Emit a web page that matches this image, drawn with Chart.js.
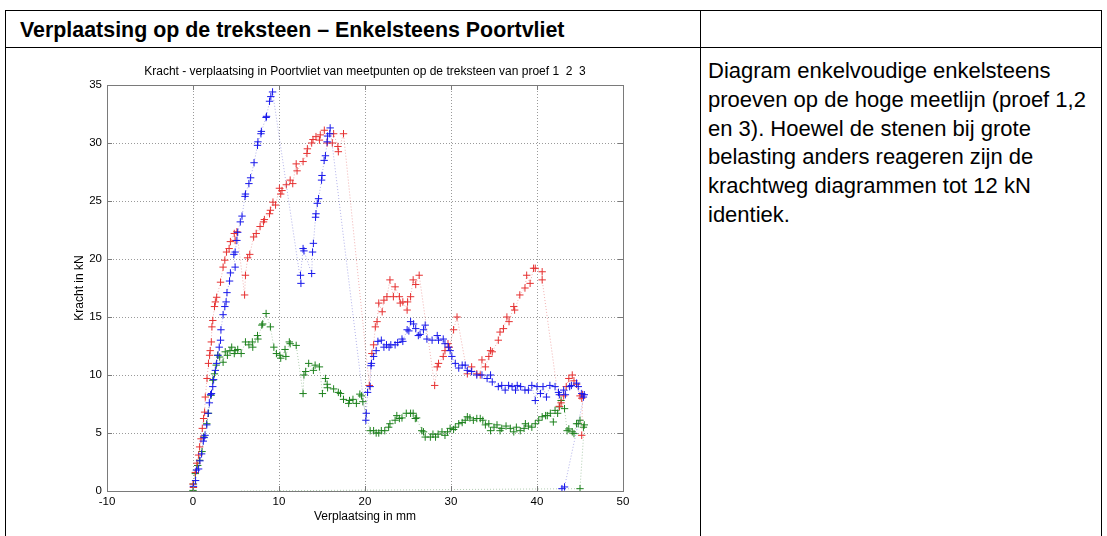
<!DOCTYPE html>
<html>
<head>
<meta charset="UTF-8">
<title>Verplaatsing op de treksteen</title>
<script src="https://cdn.jsdelivr.net/npm/chart.js@4.4.0/dist/chart.umd.min.js"></script>
<style>
  body { margin: 0; background: #fff; font-family: "Liberation Sans", Arial, sans-serif; }
  .line { position: absolute; background: #000; }
  #kop { position: absolute; left: 20px; top: 17px; font-weight: bold; font-size: 21.4px; line-height: 26px; white-space: nowrap; }
  #tekst { position: absolute; left: 708px; top: 57px; font-size: 22px; line-height: 28.8px; white-space: nowrap; }
  #wrap { position: absolute; left: 40px; top: 58px; width: 600px; height: 478px; }
</style>
</head>
<body>
<div class="line" style="left:5px;top:10px;width:1097px;height:1px"></div>
<div class="line" style="left:5px;top:47px;width:1097px;height:1px"></div>
<div class="line" style="left:5px;top:10px;width:1px;height:526px"></div>
<div class="line" style="left:700px;top:10px;width:1px;height:526px"></div>
<div class="line" style="left:1101px;top:10px;width:1px;height:526px"></div>

<div id="kop">Verplaatsing op de treksteen – Enkelsteens Poortvliet</div>
<div id="tekst">Diagram enkelvoudige enkelsteens<br>proeven op de hoge meetlijn (proef 1,2<br>en 3). Hoewel de stenen bij grote<br>belasting anders reageren zijn de<br>krachtweg diagrammen tot 12 kN<br>identiek.</div>

<div id="wrap"><canvas id="chart" width="600" height="478"></canvas></div>

<script>
// meetpunten [verplaatsing mm, kracht kN], in volgorde van meting
var proef1 = [[0.05,0.4],[0.3,0.9],[0.4,1.8],[0.65,1.9],[0.8,2.6],[1.0,3.2],[1.2,4.3],[1.3,4.6],[1.4,4.8],[1.6,5.7],[1.75,6.7],[1.9,7.6],[2.05,8.3],[2.15,8.4],[2.3,9.0],[2.4,9.6],[2.6,10.4],[2.75,11.0],[2.9,11.7],[3.05,12.4],[3.2,13.0],[3.25,13.9],[3.5,15.2],[3.7,15.9],[3.85,16.3],[3.95,17.1],[4.25,18.1],[4.35,18.8],[4.9,19.3],[4.75,20.4],[4.9,20.6],[5.1,21.6],[5.2,22.3],[5.5,23.2],[5.7,23.7],[6.05,25.4],[6.1,25.6],[6.5,26.5],[6.7,27.0],[7.1,28.3],[7.5,29.8],[7.55,30.1],[7.9,30.8],[7.95,31.0],[8.5,32.2],[8.55,32.3],[8.9,33.6],[9.05,34.0],[9.25,34.4],
  [12.55,17.9],[12.5,18.6],[12.8,20.9],[12.9,20.7],[13.8,18.75],[13.9,20.6],[14.0,21.35],[14.25,23.6],[14.3,23.9],[14.45,24.8],[14.6,25.2],[14.95,26.8],[15.0,27.2],[15.25,28.5],[15.4,28.9],[15.6,30.1],[15.65,30.6],[15.9,30.8],[15.95,31.3],
  [20.1,6.1],[20.15,6.7],[20.3,8.5],[20.6,9.0],[20.7,10.8],[20.75,11.0],[21.0,11.6],[21.3,12.1],[21.5,12.9],[21.9,13.0],[22.2,12.4],[22.5,12.6],[22.8,12.4],[23.0,12.6],[23.5,12.6],[23.8,12.8],[24.3,13.1],[24.4,12.9],[24.9,13.9],[25.1,13.8],[25.3,14.6],[25.65,14.4],[25.9,14.0],[26.2,13.4],[26.4,13.5],[26.8,13.9],[27.0,14.3],[27.2,13.1],[27.8,13.0],[28.4,13.4],[28.55,13.0],[29.1,13.1],[29.3,12.7],[29.7,12.4],[29.9,12.1],[30.1,11.6],[30.5,11.0],[30.9,10.6],[31.3,10.85],[31.65,10.85],[31.9,10.4],[32.4,10.3],[33.0,10.0],[33.6,10.0],[34.2,9.7],[34.6,10.0],[34.8,9.4],[35.5,9.0],[35.9,9.1],[36.3,8.7],[36.7,9.1],[37.1,9.0],[37.5,8.7],[37.7,9.1],[38.1,9.0],[38.6,8.7],[39.0,8.7],[39.4,9.1],[39.8,7.8],[40.0,9.0],[40.4,8.4],[40.7,9.0],[41.1,8.1],[41.5,9.1],[42.1,9.0],[42.5,8.5],[42.6,8.3],[43.1,8.7],[43.3,8.3],[43.8,9.0],[44.0,9.1],[44.6,9.3],[44.8,9.0],[45.2,8.4],[45.4,8.1],[45.5,8.3],[43.2,0.35],[42.9,0.2]];

var proef2 = [[0.0,0.6],[0.05,0.3],[0.27,1.6],[0.45,2.4],[0.65,3.1],[0.77,3.8],[0.93,4.5],[1.08,5.4],[1.23,6.25],[1.35,6.8],[1.43,8.1],[1.63,9.7],[1.8,11.0],[1.93,11.7],[2.0,12.1],[2.13,12.85],[2.2,14.15],[2.3,14.7],[2.5,15.9],[2.6,16.3],[2.75,16.7],[3.2,18.0],[3.5,19.3],[3.7,19.9],[3.9,20.6],[4.2,20.9],[4.35,21.5],[4.8,22.2],[4.9,21.6],[5.1,22.35],[6.0,16.9],[6.1,18.6],[6.35,20.1],[6.6,20.4],[7.05,21.9],[7.35,22.2],[7.8,22.8],[8.2,23.2],[8.3,23.4],[8.9,23.9],[9.0,24.2],[9.3,24.9],[9.6,24.65],[10.05,26.1],[10.2,25.6],[10.35,25.9],[10.85,26.4],[11.3,26.8],[11.6,26.5],[12.0,28.2],[12.1,27.6],[12.8,28.4],[13.25,29.1],[13.3,29.5],[13.8,30.0],[13.95,30.3],[14.3,30.55],[14.7,30.25],[14.8,30.7],[15.27,31.1],[15.6,30.0],[16.2,30.0],[16.35,30.8],[16.85,29.7],[16.9,29.25],[17.5,30.8],
  [20.5,9.1],[20.8,11.85],[21.0,12.6],[21.2,14.15],[21.4,14.6],[21.6,16.2],[22.0,15.45],[22.2,16.45],[22.55,16.75],[22.9,18.2],[23.3,16.75],[23.5,17.6],[24.0,16.75],[24.1,16.2],[24.4,16.3],[24.9,15.6],[24.95,16.3],[25.3,16.75],[25.6,18.2],[25.9,17.8],[26.3,18.6],
  [28.1,9.1],[28.4,10.7],[28.55,11.0],[29.1,11.6],[29.3,12.1],[29.65,12.7],[29.8,12.4],[30.3,13.9],[30.7,15.0],
  [31.9,10.1],[32.4,10.7],[33.0,10.1],[33.4,10.0],[33.6,11.3],[34.0,10.7],[34.4,11.6],[34.6,12.1],[34.8,12.0],[35.5,13.0],[35.7,13.7],[36.1,14.0],[36.5,15.0],[36.75,14.6],[37.3,15.9],[37.4,15.6],[38.0,16.9],[38.6,17.5],[38.8,18.6],[39.2,17.9],[39.6,19.2],[39.8,19.2],[40.6,18.9],[40.6,18.2],[42.6,7.3],[42.8,7.6],[43.1,8.2],[43.4,9.0],[43.7,9.7],[44.1,10.0],[44.3,9.5],[44.6,9.2],[45.0,8.2],[45.2,8.0],[45.3,8.3],[45.2,4.8]];

var proef3 = [[0.0,0.05],[0.05,0.6],[0.27,1.5],[0.55,2.2],[0.77,2.65],[1.05,3.4],[1.23,4.65],[1.6,5.8],[1.8,6.7],[2.1,8.25],[2.3,9.55],[2.5,10.1],[2.7,10.85],[2.87,11.7],[3.1,11.55],[3.5,11.1],[3.75,12.0],[4.0,11.7],[4.3,12.1],[4.5,12.4],[4.8,11.85],[4.9,12.1],[5.2,12.2],[5.6,11.85],[6.1,12.85],[6.5,12.6],[6.9,12.85],[6.95,12.4],[7.5,13.4],[7.55,13.1],[8.0,14.3],[8.1,14.4],[8.5,15.3],[9.0,14.15],[9.4,12.4],[9.7,11.85],[10.1,11.7],[10.2,11.45],[10.7,12.2],[10.8,11.6],[11.2,12.85],[11.3,12.7],[12.0,12.55],[12.8,8.4],[12.9,10.0],[13.1,10.3],[13.45,11.0],[14.0,10.4],[14.2,10.85],[14.7,10.7],[15.05,8.4],[15.4,9.7],[15.6,9.2],[15.65,8.9],[16.35,8.8],[16.9,8.5],[17.15,8.4],[17.5,7.9],[18.1,7.55],[18.2,7.8],[18.6,7.9],[19.0,7.55],[19.4,8.35],[19.6,8.2],[19.75,7.7],
  [20.6,5.2],[21.0,5.2],[21.3,5.0],[21.6,5.0],[21.9,5.2],[22.3,5.2],[22.75,5.5],[22.9,5.8],[23.5,6.1],[23.7,6.5],[24.0,6.25],[24.3,6.3],[24.8,6.7],[25.3,6.7],[25.6,6.7],[25.85,6.25],[26.0,6.3],[26.6,5.2],[26.8,5.1],[27.0,4.65],[27.6,4.65],[27.9,4.9],[28.2,4.65],[28.5,4.9],[28.95,5.1],[29.3,4.8],[29.6,5.1],[29.9,5.4],[30.3,5.3],[30.5,5.5],[30.9,5.8],[31.3,5.9],[31.65,6.1],[31.9,6.4],[32.2,6.3],[32.6,6.1],[33.0,6.25],[33.4,6.25],[33.7,6.1],[34.0,5.7],[34.4,5.8],[34.6,5.2],[35.0,5.5],[35.35,5.7],[35.7,5.2],[35.9,5.4],[36.4,5.6],[36.9,5.4],[37.3,5.1],[37.6,5.5],[38.05,5.2],[38.5,5.4],[38.65,5.8],[39.0,5.6],[39.4,5.5],[39.8,5.8],[40.2,6.1],[40.6,6.4],[41.0,6.5],[41.2,6.5],[41.55,6.7],[41.9,5.95],[42.1,6.95],[42.4,6.7],[42.6,7.25],[42.8,7.8],[43.2,7.1],[43.5,5.2],[43.7,5.35],[44.1,5.1],[44.3,4.95],[44.6,5.8],[44.8,5.8],[45.0,6.1],[45.4,5.5],[45.5,5.7],[45.0,0.2],[5.5,0.0]];

var xTicks = [-10, 0, 10, 20, 30, 40, 50];
var yTicks = [0, 5, 10, 15, 20, 25, 30, 35];
var titel = 'Kracht - verplaatsing in Poortvliet van meetpunten op de treksteen van proef 1  2  3';
var font = 'Liberation Sans, Arial, sans-serif';

function punten(reeks) {
  return reeks.map(function (p) { return { x: p[0], y: p[1] }; });
}

function reeks(naam, data, kleur, lijn, laatsteVerborgen) {
  return {
    label: naam,
    data: punten(data),
    showLine: true,
    borderColor: lijn,
    borderWidth: 1,
    borderDash: [1, 2],
    pointStyle: 'cross',
    pointBorderColor: kleur,
    pointBorderWidth: 1,
    pointRadius: function (c) {
      return (laatsteVerborgen && c.dataIndex === data.length - 1) ? 0 : 3.7;
    }
  };
}

// MATLAB-achtige doos met naar binnen gerichte streepjes, titel boven het assenvlak
var doos = {
  id: 'doos',
  afterDatasetsDraw: function (chart) {
    var a = chart.chartArea, c = chart.ctx, sx = chart.scales.x, sy = chart.scales.y;
    c.save();
    c.strokeStyle = '#7a7a7a';
    c.lineWidth = 1;
    c.setLineDash([]);
    c.strokeRect(Math.round(a.left) + 0.5, Math.round(a.top) + 0.5, Math.round(a.right - a.left), Math.round(a.bottom - a.top));
    c.beginPath();
    xTicks.forEach(function (v) {
      var px = Math.round(sx.getPixelForValue(v)) + 0.5;
      c.moveTo(px, a.bottom); c.lineTo(px, a.bottom - 5);
      c.moveTo(px, a.top); c.lineTo(px, a.top + 5);
    });
    yTicks.forEach(function (v) {
      var py = Math.round(sy.getPixelForValue(v)) + 0.5;
      c.moveTo(a.left, py); c.lineTo(a.left + 5, py);
      c.moveTo(a.right, py); c.lineTo(a.right - 5, py);
    });
    c.stroke();
    c.fillStyle = '#000';
    c.font = '12px ' + font;
    c.textAlign = 'center';
    c.textBaseline = 'middle';
    c.fillText(titel, (a.left + a.right) / 2, a.top - 13);
    c.restore();
  }
};

var ctx = document.getElementById('chart').getContext('2d');
var chart = new Chart(ctx, {
  type: 'scatter',
  data: {
    datasets: [
      reeks('proef 1', proef1, 'rgb(25,25,235)', 'rgba(60,60,200,0.4)', false),
      reeks('proef 2', proef2, 'rgb(230,50,50)', 'rgba(220,60,60,0.4)', false),
      reeks('proef 3', proef3, 'rgb(30,130,30)', 'rgba(60,130,60,0.4)', true)
    ]
  },
  options: {
    responsive: false,
    animation: false,
    layout: { padding: { left: 0, right: 17, top: 27, bottom: 0 } },
    plugins: {
      legend: { display: false },
      tooltip: { enabled: false },
      title: { display: false }
    },
    scales: {
      x: {
        type: 'linear', min: -10, max: 50,
        afterFit: function (s) { s.height = 45; },
        afterBuildTicks: function (s) { s.ticks = xTicks.map(function (v) { return { value: v }; }); },
        ticks: { color: '#000', padding: 4, font: { family: font, size: 11.5 }, maxRotation: 0 },
        grid: { color: '#9a9a9a', lineWidth: 1, drawTicks: false },
        border: { display: false, dash: [1, 2] },
        title: { display: true, text: 'Verplaatsing in mm', color: '#000', font: { family: font, size: 12 }, padding: { top: 0, bottom: 12 } }
      },
      y: {
        type: 'linear', min: 0, max: 35,
        afterFit: function (s) { s.width = 67; },
        afterBuildTicks: function (s) { s.ticks = yTicks.map(function (v) { return { value: v }; }); },
        ticks: { color: '#000', padding: 5, font: { family: font, size: 11.5 } },
        grid: { color: '#9a9a9a', lineWidth: 1, drawTicks: false },
        border: { display: false, dash: [1, 2] },
        title: { display: true, text: 'Kracht in kN', color: '#000', font: { family: font, size: 12 }, padding: { top: 32, bottom: 0 } }
      }
    }
  },
  plugins: [doos]
});
</script>
</body>
</html>
